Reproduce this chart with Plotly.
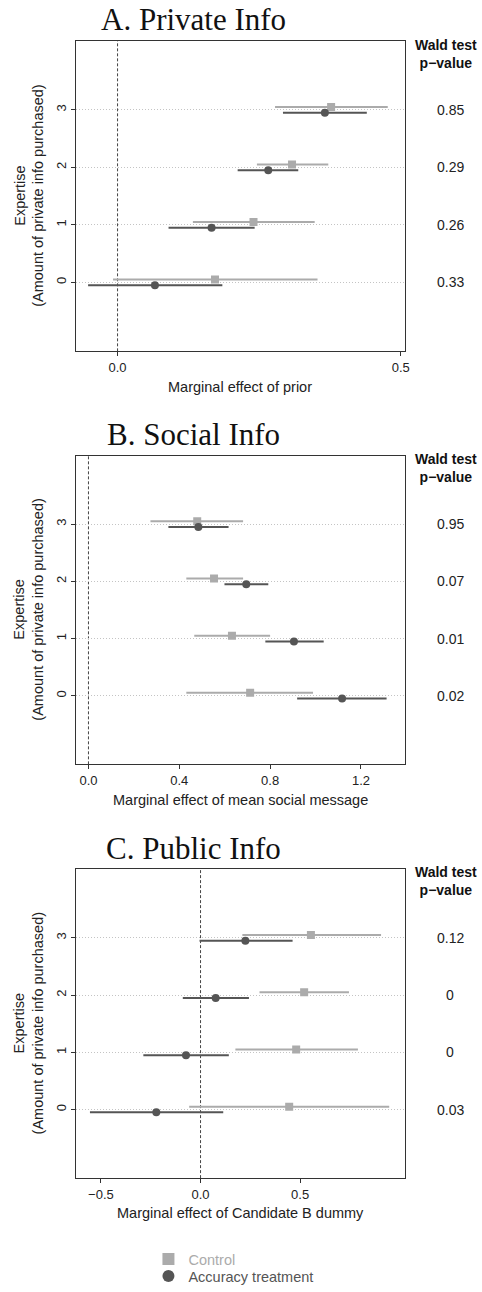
import plotly.graph_objects as go

# ---------------- data ----------------
levels = [0, 1, 2, 3]

panel_titles = ["A. Private Info", "B. Social Info", "C. Public Info"]
x_titles = ["Marginal effect of prior",
            "Marginal effect of mean social message",
            "Marginal effect of Candidate B dummy"]

# Panel A (order: expertise 0,1,2,3)
a_ctrl_est = [0.172, 0.240, 0.308, 0.377]
a_ctrl_lo = [-0.008, 0.133, 0.246, 0.278]
a_ctrl_hi = [0.353, 0.348, 0.372, 0.477]
a_acc_est = [0.066, 0.166, 0.266, 0.366]
a_acc_lo = [-0.052, 0.090, 0.212, 0.292]
a_acc_hi = [0.185, 0.242, 0.319, 0.440]
a_pvals = ["0.33", "0.26", "0.29", "0.85"]

# Panel B
b_ctrl_est = [0.712, 0.632, 0.553, 0.479]
b_ctrl_lo = [0.431, 0.466, 0.431, 0.273]
b_ctrl_hi = [0.989, 0.800, 0.681, 0.681]
b_acc_est = [1.117, 0.905, 0.695, 0.484]
b_acc_lo = [0.919, 0.779, 0.599, 0.352]
b_acc_hi = [1.313, 1.036, 0.792, 0.617]
b_pvals = ["0.02", "0.01", "0.07", "0.95"]

# Panel C
c_ctrl_est = [0.445, 0.480, 0.520, 0.554]
c_ctrl_lo = [-0.057, 0.175, 0.296, 0.210]
c_ctrl_hi = [0.947, 0.790, 0.745, 0.906]
c_acc_est = [-0.222, -0.073, 0.076, 0.225]
c_acc_lo = [-0.555, -0.287, -0.089, -0.005]
c_acc_hi = [0.114, 0.142, 0.243, 0.462]
c_pvals = ["0.03", "0", "0", "0.12"]

x_tickvals = [[0.0, 0.5], [0.0, 0.4, 0.8, 1.2], [-0.5, 0.0, 0.5]]
x_ticktext = [["0.0", "0.5"], ["0.0", "0.4", "0.8", "1.2"], ["\u22120.5", "0.0", "0.5"]]
x_ranges = [[-0.073, 0.507], [-0.054, 1.393], [-0.624, 1.025]]

panels = [
    (a_ctrl_est, a_ctrl_lo, a_ctrl_hi, a_acc_est, a_acc_lo, a_acc_hi, a_pvals),
    (b_ctrl_est, b_ctrl_lo, b_ctrl_hi, b_acc_est, b_acc_lo, b_acc_hi, b_pvals),
    (c_ctrl_est, c_ctrl_lo, c_ctrl_hi, c_acc_est, c_acc_lo, c_acc_hi, c_pvals),
]

# ---------------- style ----------------
W, H = 482, 1292
CTRL = "#ababab"
ACC = "#555555"
SANS = "Liberation Sans, Arial, sans-serif"
SERIF = "Liberation Serif, Times New Roman, serif"
OFF = 0.05

def py(px):
    return 1 - px / H

def pxx(px):
    return px / W

plot_left, plot_right = 77, 409
panel_px = [(41, 352.7), (457.3, 767.3), (872.7, 1182.7)]
title_px = [20, 436, 852]
header_px = [54.5, 469.5, 884.5]

fig = go.Figure()
leg_common = dict(x=pxx(150), xanchor="left", yanchor="middle",
                  font=dict(size=14.5, family=SANS), bgcolor="rgba(0,0,0,0)",
                  itemwidth=30, itemsizing="constant")
layout = dict(
    width=W, height=H, margin=dict(l=0, r=0, t=0, b=0),
    plot_bgcolor="white", paper_bgcolor="white",
    font=dict(family=SANS, size=14, color="#222222"),
    showlegend=True,
    legend=dict(y=py(1264), **leg_common),
    legend2=dict(y=py(1281), **leg_common),
)
annotations = []
shapes = []

for i, (ce, cl, ch, ae, al, ah, pv) in enumerate(panels):
    n = i + 1
    xa = "x" if n == 1 else f"x{n}"
    ya = "y" if n == 1 else f"y{n}"
    top, bot = panel_px[i]
    layout[f"xaxis{'' if n == 1 else n}"] = dict(
        domain=[pxx(plot_left), pxx(plot_right)], anchor=ya,
        range=x_ranges[i], tickvals=x_tickvals[i], ticktext=x_ticktext[i],
        ticks="outside", ticklen=4, tickcolor="#333", showgrid=False, zeroline=False,
        showline=True, mirror=True, linecolor="#333", linewidth=1,
        tickfont=dict(size=13, family=SANS, color="#222"),
    )
    layout[f"yaxis{'' if n == 1 else n}"] = dict(
        domain=[py(bot), py(top)], anchor=xa,
        range=[-1.2, 4.2], tickvals=levels, ticktext=[str(v) for v in levels],
        tickangle=-90, ticks="outside", ticklen=4, tickcolor="#333",
        showgrid=True, gridcolor="#c4c4c4", griddash="1px,2px", gridwidth=1,
        zeroline=False, showline=True, mirror=True, linecolor="#333", linewidth=1,
        tickfont=dict(size=13, family=SANS, color="#222"),
    )
    # control
    fig.add_trace(go.Scatter(
        x=ce, y=[l + OFF for l in levels], xaxis=xa, yaxis=ya, mode="markers",
        marker=dict(symbol="square", size=8, color=CTRL),
        error_x=dict(type="data", symmetric=False,
                     array=[h - e for h, e in zip(ch, ce)],
                     arrayminus=[e - l for e, l in zip(ce, cl)],
                     width=0, thickness=2, color=CTRL),
        name=f"<span style='color:{CTRL}'>Control</span>",
        showlegend=(i == 0), legend="legend", hoverinfo="skip",
    ))
    # accuracy
    fig.add_trace(go.Scatter(
        x=ae, y=[l - OFF for l in levels], xaxis=xa, yaxis=ya, mode="markers",
        marker=dict(symbol="circle", size=8, color=ACC),
        error_x=dict(type="data", symmetric=False,
                     array=[h - e for h, e in zip(ah, ae)],
                     arrayminus=[e - l for e, l in zip(ae, al)],
                     width=0, thickness=2, color=ACC),
        name=f"<span style='color:{ACC}'>Accuracy treatment</span>",
        showlegend=(i == 0), legend="legend2", hoverinfo="skip",
    ))
    # zero line
    shapes.append(dict(type="line", xref=xa, yref=f"{ya} domain", x0=0, x1=0, y0=0, y1=1,
                       line=dict(color="#444", width=1, dash="3px,2px"), layer="below"))
    # title
    annotations.append(dict(text=panel_titles[i], xref="paper", yref="paper",
                            x=pxx(196), y=py(title_px[i]), xanchor="center", yanchor="middle",
                            showarrow=False, font=dict(family=SERIF, size=31, color="#111")))
    # x title
    annotations.append(dict(text=x_titles[i], xref="paper", yref="paper",
                            x=pxx((plot_left + plot_right) / 2), y=py(bot + 35.5),
                            xanchor="center", yanchor="middle", showarrow=False,
                            font=dict(size=14.5, family=SANS, color="#222")))
    # y title
    annotations.append(dict(text="Expertise<br>(Amount of private info purchased)",
                            xref="paper", yref="paper", x=pxx(29), y=py((top + bot) / 2),
                            xanchor="center", yanchor="middle", textangle=-90, showarrow=False,
                            font=dict(size=14.5, family=SANS, color="#222")))
    # Wald header
    annotations.append(dict(text="<b>Wald test</b><br><b>p\u2212value</b>",
                            xref="paper", yref="paper", x=pxx(451), y=py(header_px[i]),
                            xanchor="center", yanchor="middle", showarrow=False,
                            font=dict(size=14, family=SANS, color="#111")))
    # p-values
    for lv, p in zip(levels, pv):
        annotations.append(dict(text=p, xref="paper", yref=ya, x=pxx(455), y=lv,
                                xanchor="center", yanchor="middle", showarrow=False,
                                font=dict(size=14, family=SANS, color="#222")))

layout["annotations"] = annotations
layout["shapes"] = shapes
fig.update_layout(**layout)
fig.write_html("out.html")
